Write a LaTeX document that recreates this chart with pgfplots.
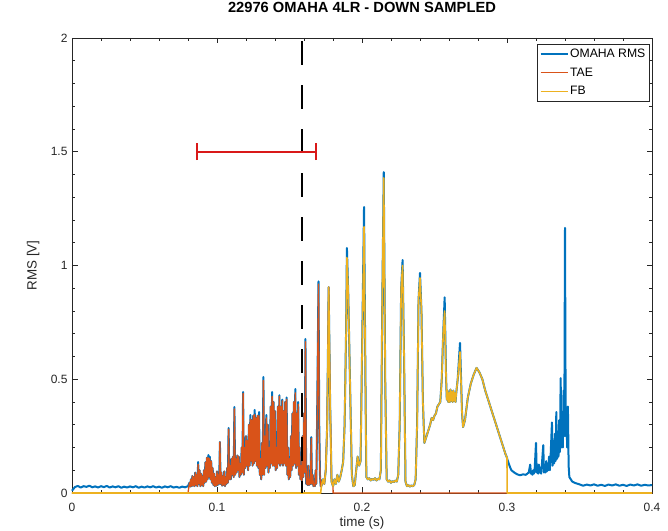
\documentclass[border=0pt]{standalone}
\usepackage{pgfplots}
\pgfplotsset{compat=1.18}
\usepackage{pgfplotstable}
\usepackage{fontspec}
\setmainfont{Liberation Sans}

\definecolor{mblue}{rgb}{0,0.447,0.741}
\definecolor{morange}{rgb}{0.85,0.325,0.098}
\definecolor{myellow}{rgb}{0.929,0.694,0.125}
\definecolor{axgray}{rgb}{0.15,0.15,0.15}
\definecolor{errred}{rgb}{0.85,0.1,0.1}

% time, total RMS, TAE part, FB part
\pgfplotstableread{
x rms tae fb
0.000 0.010 0 0
0.002 0.026 0 0
0.004 0.031 0 0
0.006 0.024 0 0
0.008 0.030 0 0
0.010 0.027 0 0
0.012 0.032 0 0
0.014 0.025 0 0
0.016 0.029 0 0
0.018 0.024 0 0
0.020 0.030 0 0
0.022 0.026 0 0
0.024 0.031 0 0
0.026 0.024 0 0
0.028 0.029 0 0
0.030 0.025 0 0
0.032 0.030 0 0
0.034 0.023 0 0
0.036 0.028 0 0
0.038 0.024 0 0
0.040 0.029 0 0
0.042 0.025 0 0
0.044 0.030 0 0
0.046 0.023 0 0
0.048 0.028 0 0
0.050 0.024 0 0
0.052 0.029 0 0
0.054 0.025 0 0
0.056 0.030 0 0
0.058 0.024 0 0
0.060 0.028 0 0
0.062 0.023 0 0
0.064 0.029 0 0
0.066 0.025 0 0
0.068 0.030 0 0
0.070 0.024 0 0
0.072 0.027 0 0
0.074 0.023 0 0
0.076 0.028 0 0
0.078 0.025 0 0
0.080 0.030 0 0
0.0810 0.045 0.045 0
0.0815 0.028 0.028 0
0.0820 0.060 0.060 0
0.0825 0.030 0.030 0
0.0830 0.075 0.075 0
0.0835 0.032 0.032 0
0.0840 0.070 0.070 0
0.0845 0.030 0.030 0
0.0850 0.090 0.090 0
0.0855 0.035 0.035 0
0.0860 0.080 0.080 0
0.0865 0.030 0.030 0
0.0870 0.136 0.126 0
0.0875 0.040 0.040 0
0.0880 0.100 0.100 0
0.0885 0.030 0.030 0
0.0890 0.085 0.085 0
0.0895 0.035 0.035 0
0.0900 0.075 0.075 0
0.0905 0.030 0.030 0
0.0910 0.100 0.100 0
0.0915 0.045 0.045 0
0.0920 0.135 0.135 0
0.0925 0.050 0.050 0
0.0930 0.155 0.155 0
0.0935 0.060 0.060 0
0.0940 0.167 0.155 0
0.0945 0.070 0.070 0
0.0950 0.160 0.152 0
0.0955 0.060 0.060 0
0.0960 0.140 0.140 0
0.0965 0.045 0.045 0
0.0970 0.110 0.110 0
0.0975 0.035 0.035 0
0.0980 0.085 0.085 0
0.0985 0.030 0.030 0
0.0990 0.070 0.070 0
0.0995 0.032 0.032 0
0.1000 0.095 0.095 0
0.1005 0.035 0.035 0
0.1010 0.080 0.080 0
0.1015 0.040 0.040 0
0.1020 0.224 0.224 0
0.1025 0.040 0.040 0
0.1030 0.090 0.090 0
0.1035 0.032 0.032 0
0.1040 0.075 0.075 0
0.1045 0.035 0.035 0
0.1050 0.095 0.095 0
0.1055 0.030 0.030 0
0.1060 0.070 0.070 0
0.1065 0.040 0.040 0
0.1070 0.110 0.110 0
0.1075 0.045 0.045 0
0.1080 0.286 0.280 0
0.1085 0.060 0.060 0
0.1090 0.120 0.120 0
0.1095 0.060 0.060 0
0.1100 0.150 0.150 0
0.1105 0.080 0.080 0
0.1110 0.160 0.160 0
0.1115 0.070 0.070 0
0.1120 0.378 0.370 0
0.1125 0.080 0.080 0
0.1130 0.150 0.150 0
0.1135 0.090 0.090 0
0.1140 0.165 0.165 0
0.1145 0.100 0.100 0
0.1150 0.160 0.160 0
0.1155 0.070 0.070 0
0.1160 0.130 0.130 0
0.1165 0.080 0.080 0
0.1170 0.200 0.200 0
0.1175 0.090 0.090 0
0.1180 0.444 0.438 0
0.1185 0.080 0.080 0
0.1190 0.200 0.200 0
0.1195 0.110 0.110 0
0.1200 0.250 0.250 0
0.1205 0.120 0.120 0
0.1210 0.230 0.230 0
0.1215 0.100 0.100 0
0.1220 0.300 0.300 0
0.1225 0.120 0.120 0
0.1230 0.343 0.325 0
0.1235 0.140 0.140 0
0.1240 0.320 0.320 0
0.1245 0.120 0.120 0
0.1250 0.340 0.340 0
0.1255 0.130 0.130 0
0.1260 0.365 0.345 0
0.1265 0.140 0.140 0
0.1270 0.330 0.330 0
0.1275 0.120 0.120 0
0.1280 0.340 0.340 0
0.1285 0.110 0.110 0
0.1290 0.356 0.340 0
0.1295 0.080 0.080 0
0.1300 0.150 0.150 0
0.1305 0.060 0.060 0
0.1310 0.220 0.220 0
0.1315 0.080 0.080 0
0.1320 0.510 0.495 0
0.1325 0.080 0.080 0
0.1330 0.250 0.250 0
0.1335 0.110 0.110 0
0.1340 0.343 0.330 0
0.1345 0.120 0.120 0
0.1350 0.300 0.300 0
0.1355 0.090 0.090 0
0.1360 0.200 0.200 0
0.1365 0.110 0.110 0
0.1370 0.380 0.380 0
0.1375 0.130 0.130 0
0.1380 0.444 0.425 0
0.1385 0.120 0.120 0
0.1390 0.400 0.400 0
0.1395 0.120 0.120 0
0.1400 0.360 0.360 0
0.1405 0.100 0.100 0
0.1410 0.200 0.200 0
0.1415 0.110 0.110 0
0.1420 0.380 0.380 0
0.1425 0.130 0.130 0
0.1430 0.430 0.425 0
0.1435 0.120 0.120 0
0.1440 0.380 0.380 0
0.1445 0.130 0.130 0
0.1450 0.410 0.405 0
0.1455 0.120 0.120 0
0.1460 0.360 0.360 0
0.1465 0.130 0.130 0
0.1470 0.400 0.400 0
0.1475 0.120 0.120 0
0.1480 0.420 0.412 0
0.1485 0.080 0.080 0
0.1490 0.200 0.200 0
0.1495 0.060 0.060 0
0.1500 0.150 0.150 0
0.1505 0.070 0.070 0
0.1510 0.250 0.250 0
0.1515 0.100 0.100 0
0.1520 0.350 0.350 0
0.1525 0.120 0.120 0
0.1530 0.400 0.400 0
0.1535 0.130 0.130 0
0.1540 0.457 0.440 0
0.1545 0.110 0.110 0
0.1550 0.350 0.350 0
0.1555 0.120 0.120 0
0.1560 0.400 0.390 0
0.1565 0.080 0.080 0
0.1570 0.200 0.200 0
0.1575 0.060 0.060 0
0.1580 0.120 0.120 0
0.1585 0.050 0.050 0
0.1590 0.250 0.250 0
0.1595 0.070 0.070 0
0.1600 0.350 0.350 0
0.1605 0.090 0.090 0
0.1610 0.677 0.665 0
0.1615 0.040 0.040 0
0.1620 0.060 0.060 0
0.1625 0.035 0.035 0
0.1630 0.120 0.120 0
0.1635 0.035 0.035 0
0.1640 0.050 0.050 0
0.1645 0.040 0.040 0
0.1650 0.246 0.240 0
0.1655 0.040 0.040 0
0.1660 0.080 0.080 0
0.1665 0.030 0.030 0
0.1670 0.040 0.040 0
0.1675 0.030 0.030 0
0.1680 0.100 0.100 0
0.1685 0.040 0.040 0
0.1690 0.300 0.300 0
0.1700 0.930 0.918 0
0.1705 0.300 0.300 0
0.1710 0.080 0.080 0
0.1715 0.030 0.030 0
0.172 0.030 0.030 0.030
0.173 0.060 0.060 0.060
0.174 0.040 0.040 0.040
0.175 0.100 0.100 0.100
0.176 0.300 0.300 0.300
0.177 0.905 0.905 0.905
0.178 0.400 0.400 0.400
0.179 0.050 0.050 0.050
0.180 0.030 0.030 0.030
0.1801 0.030 0 0.030
0.181 0.060 0 0.060
0.182 0.040 0 0.040
0.183 0.080 0 0.080
0.184 0.050 0 0.050
0.185 0.070 0 0.070
0.186 0.100 0 0.100
0.187 0.137 0 0.137
0.188 0.300 0 0.300
0.189 0.700 0 0.700
0.1896 1.077 0 1.035
0.1905 0.880 0 0.880
0.192 0.400 0 0.400
0.193 0.080 0 0.080
0.194 0.030 0 0.030
0.195 0.035 0 0.035
0.196 0.100 0 0.100
0.197 0.160 0 0.160
0.198 0.120 0 0.120
0.199 0.140 0 0.140
0.200 0.600 0 0.600
0.2014 1.257 0 1.170
0.2025 0.400 0 0.400
0.203 0.070 0 0.070
0.204 0.060 0 0.060
0.205 0.065 0 0.065
0.206 0.055 0 0.055
0.207 0.062 0 0.062
0.208 0.058 0 0.058
0.209 0.065 0 0.065
0.210 0.055 0 0.055
0.211 0.063 0 0.063
0.212 0.060 0 0.060
0.213 0.100 0 0.100
0.214 0.850 0 0.850
0.215 1.410 0 1.385
0.216 0.500 0 0.500
0.217 0.060 0 0.060
0.218 0.050 0 0.050
0.219 0.055 0 0.055
0.220 0.045 0 0.045
0.221 0.052 0 0.052
0.222 0.048 0 0.048
0.223 0.055 0 0.055
0.224 0.050 0 0.050
0.225 0.080 0 0.080
0.226 0.300 0 0.300
0.227 0.900 0 0.900
0.228 1.024 0 1.000
0.229 0.600 0 0.600
0.230 0.050 0 0.050
0.231 0.030 0 0.030
0.232 0.035 0 0.035
0.233 0.028 0 0.028
0.234 0.033 0 0.033
0.235 0.030 0 0.030
0.236 0.035 0 0.035
0.237 0.060 0 0.060
0.238 0.300 0 0.300
0.239 0.850 0 0.850
0.240 0.967 0 0.945
0.241 0.800 0 0.800
0.242 0.400 0 0.400
0.243 0.220 0 0.220
0.244 0.240 0 0.240
0.245 0.260 0 0.260
0.246 0.280 0 0.280
0.247 0.300 0 0.300
0.248 0.330 0 0.330
0.249 0.320 0 0.320
0.250 0.340 0 0.340
0.251 0.350 0 0.350
0.252 0.380 0 0.380
0.253 0.390 0 0.390
0.254 0.400 0 0.400
0.255 0.500 0 0.500
0.256 0.700 0 0.700
0.257 0.860 0 0.800
0.258 0.500 0 0.500
0.2585 0.410 0 0.410
0.259 0.450 0 0.450
0.2595 0.400 0 0.400
0.260 0.440 0 0.440
0.2605 0.400 0 0.400
0.261 0.455 0 0.455
0.2615 0.405 0 0.405
0.262 0.445 0 0.445
0.2625 0.400 0 0.400
0.263 0.450 0 0.450
0.2635 0.405 0 0.405
0.264 0.440 0 0.440
0.2645 0.400 0 0.400
0.265 0.440 0 0.440
0.266 0.500 0 0.500
0.2676 0.660 0 0.620
0.269 0.350 0 0.350
0.2697 0.290 0 0.290
0.271 0.320 0 0.320
0.273 0.420 0 0.420
0.275 0.480 0 0.480
0.277 0.520 0 0.520
0.279 0.550 0 0.550
0.281 0.530 0 0.530
0.283 0.500 0 0.500
0.285 0.450 0 0.450
0.287 0.410 0 0.410
0.289 0.370 0 0.370
0.291 0.330 0 0.330
0.293 0.290 0 0.290
0.295 0.250 0 0.250
0.297 0.210 0 0.210
0.299 0.170 0 0.170
0.300 0.155 0 0.155
0.3001 0.150 0 0
0.302 0.115 0 0
0.303 0.100 0 0
0.305 0.090 0 0
0.307 0.082 0 0
0.309 0.078 0 0
0.311 0.082 0 0
0.313 0.080 0 0
0.315 0.090 0 0
0.316 0.125 0 0
0.3165 0.085 0 0
0.317 0.095 0 0
0.3175 0.080 0 0
0.318 0.100 0 0
0.3185 0.085 0 0
0.319 0.095 0 0
0.320 0.220 0 0
0.3205 0.090 0 0
0.321 0.110 0 0
0.3215 0.085 0 0
0.322 0.125 0 0
0.3225 0.090 0 0
0.323 0.110 0 0
0.3235 0.085 0 0
0.324 0.120 0 0
0.325 0.210 0 0
0.3255 0.090 0 0
0.326 0.120 0 0
0.3265 0.090 0 0
0.327 0.140 0 0
0.3275 0.095 0 0
0.328 0.130 0 0
0.3285 0.100 0 0
0.329 0.160 0 0
0.3295 0.100 0 0
0.330 0.150 0 0
0.331 0.310 0 0
0.3315 0.120 0 0
0.332 0.200 0 0
0.3325 0.130 0 0
0.333 0.260 0 0
0.3335 0.140 0 0
0.334 0.356 0 0
0.3345 0.150 0 0
0.335 0.250 0 0
0.3355 0.160 0 0
0.336 0.320 0 0
0.3365 0.180 0 0
0.337 0.505 0 0
0.3375 0.200 0 0
0.338 0.330 0 0
0.3385 0.200 0 0
0.339 0.450 0 0
0.3395 0.250 0 0
0.340 1.165 0 0
0.3405 0.250 0 0
0.341 0.330 0 0
0.3415 0.200 0 0
0.342 0.380 0 0
0.3425 0.120 0 0
0.343 0.070 0 0
0.345 0.050 0 0
0.347 0.044 0 0
0.350 0.038 0 0
0.3525 0.032 0 0
0.355 0.037 0 0
0.3575 0.033 0 0
0.360 0.038 0 0
0.3625 0.032 0 0
0.365 0.036 0 0
0.3675 0.031 0 0
0.370 0.037 0 0
0.3725 0.033 0 0
0.375 0.038 0 0
0.3775 0.032 0 0
0.380 0.036 0 0
0.3825 0.031 0 0
0.385 0.037 0 0
0.3875 0.033 0 0
0.390 0.038 0 0
0.3925 0.032 0 0
0.395 0.036 0 0
0.3975 0.033 0 0
0.400 0.035 0 0
}\omaha

\begin{document}
\begin{tikzpicture}
\begin{axis}[
  name=main,
  scale only axis,
  width=580pt, height=455pt,
  xmin=0, xmax=0.4, ymin=0, ymax=2,
  xtick={0,0.1,0.2,0.3,0.4},
  ytick={0,0.5,1,1.5,2},
  minor x tick num=4, minor y tick num=4,
  tick align=inside,
  major tick length=5.5pt, minor tick length=3pt,
  axis line style={axgray, line width=0.5pt},
  every tick/.style={axgray, line width=0.5pt},
  /pgf/number format/assume math mode=true,
  tick label style={font=\fontsize{12}{14}\selectfont, text=axgray},
  xticklabel style={anchor=base, yshift=-18.5pt},
  yticklabel style={xshift=-1pt},
  title={\textbf{22976 OMAHA 4LR - DOWN SAMPLED}},
  title style={at={(axis description cs:0.5,1.053)}, anchor=center, font=\fontsize{14.7}{17}\selectfont},
  xlabel={time (s)},
  xlabel style={at={(axis description cs:0.5,-0.066)}, anchor=center, font=\fontsize{13.4}{15}\selectfont, text=axgray},
  ylabel={RMS [V]},
  ylabel style={at={(axis description cs:-0.067,0.5)}, anchor=center, rotate=0, font=\fontsize{13.4}{15}\selectfont, text=axgray},
  legend style={at={(rel axis cs:0.995,0.987)}, anchor=north east,
    draw=axgray, line width=0.5pt, fill=white,
    font=\fontsize{12.2}{14}\selectfont, inner xsep=2pt, inner ysep=3pt,
    row sep=6pt, nodes={inner sep=1.5pt}},
  legend cell align=left,
  legend image code/.code={\draw[#1] (0pt,0pt) -- (27pt,0pt);},
  clip=false,
]
\addplot[mblue, line width=2pt, line join=round] table[x=x, y=rms] {\omaha};
\addlegendentry{OMAHA RMS}
\addplot[morange, line width=1.3pt, line join=round] table[x=x, y=tae] {\omaha};
\addlegendentry{TAE}
\addplot[myellow, line width=1.6pt, line join=round] table[x=x, y=fb] {\omaha};
\addlegendentry{FB}

% onset marker
\addplot[forget plot, black, line width=2.5pt, dash pattern=on 24pt off 20pt]
  coordinates {(0.1586,1.985) (0.1586,0)};

% timing window with end caps
\addplot[forget plot, errred, line width=1.6pt] coordinates {(0.0862,1.5) (0.1683,1.5)};
\addplot[forget plot, errred, line width=1.6pt] coordinates {(0.0862,1.463) (0.0862,1.537)};
\addplot[forget plot, errred, line width=1.6pt] coordinates {(0.1683,1.463) (0.1683,1.537)};
\end{axis}
\pgfresetboundingbox
\path[use as bounding box] ([xshift=-72pt,yshift=-38pt]main.south west) rectangle ([xshift=16pt,yshift=38pt]main.north east);
\end{tikzpicture}
\end{document}
